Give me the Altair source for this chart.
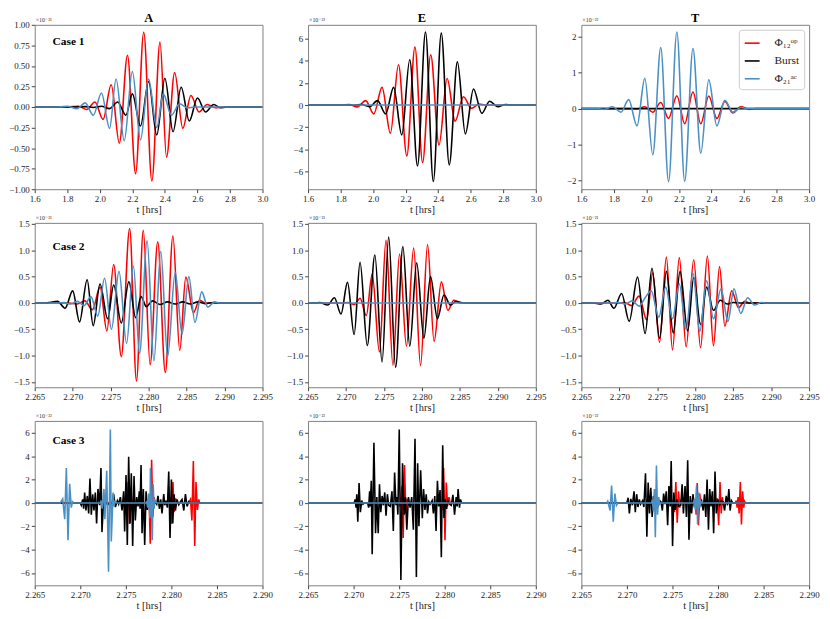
import altair as alt
import pandas as pd

FONT = "Liberation Serif, DejaVu Serif, serif"
SERIES = ["Φ₁₂ᵒᵖ", "Burst", "Φ₂₁ᵃᶜ"]
COLORS = ["#ff0000", "#000000", "#4a90c4"]

# ---------------- tick values ----------------
X1_TICKS = [1.6, 1.8, 2.0, 2.2, 2.4, 2.6, 2.8, 3.0]
X2_TICKS = [2.265, 2.270, 2.275, 2.280, 2.285, 2.290, 2.295]
X3_TICKS = [2.265, 2.270, 2.275, 2.280, 2.285, 2.290]
YA1_TICKS = [-1.0, -0.75, -0.5, -0.25, 0.0, 0.25, 0.5, 0.75, 1.0]
YE1_TICKS = [-6, -4, -2, 0, 2, 4, 6]
YT1_TICKS = [-2, -1, 0, 1, 2]
Y2_TICKS = [-1.5, -1.0, -0.5, 0.0, 0.5, 1.0, 1.5]
Y3_TICKS = [-6, -4, -2, 0, 2, 4, 6]

# ---------------- Case 1 (t [hrs], value) ----------------
A1_OP = [(1.80, 0), (1.87, 0.01), (1.92, -0.03), (1.97, 0.06), (2.02, -0.15), (2.07, 0.27), (2.12, -0.44),
         (2.17, 0.63), (2.22, -0.81), (2.27, 0.91), (2.32, -0.90), (2.37, 0.79), (2.41, -0.61), (2.46, 0.42),
         (2.51, -0.26), (2.56, 0.14), (2.61, -0.06), (2.66, 0.03), (2.71, -0.01), (2.75, 0)]
A1_BU = [(1.85, 0), (1.91, 0.005), (1.96, -0.005), (2.01, 0.01), (2.06, -0.02), (2.11, 0.06), (2.16, -0.10),
         (2.20, 0.16), (2.25, -0.23), (2.30, 0.31), (2.35, -0.34), (2.40, 0.35), (2.45, -0.30), (2.50, 0.24),
         (2.55, -0.17), (2.60, 0.11), (2.65, -0.06), (2.70, 0.03), (2.74, -0.01), (2.78, 0)]
A1_AC = [(1.75, 0), (1.80, 0.01), (1.86, -0.02), (1.91, 0.05), (1.96, -0.10), (2.01, 0.17), (2.06, -0.26),
         (2.10, 0.34), (2.15, -0.41), (2.20, 0.43), (2.25, -0.40), (2.30, 0.34), (2.35, -0.25), (2.39, 0.16),
         (2.44, -0.10), (2.49, 0.04), (2.54, -0.01), (2.58, 0)]

E1_OP = [(1.80, 0), (1.853, 0.05), (1.903, -0.17), (1.954, 0.4), (2.004, -0.8), (2.055, 1.6), (2.106, -2.55),
         (2.156, 3.65), (2.207, -4.6), (2.257, 5.25), (2.304, -5.2), (2.354, 4.55), (2.405, -3.6), (2.455, 2.4),
         (2.504, -1.45), (2.555, 0.75), (2.605, -0.3), (2.652, 0.1), (2.69, 0)]
E1_BU = [(1.84, 0), (1.88, -0.01), (1.928, 0.05), (1.978, -0.15), (2.027, 0.4), (2.077, -0.8), (2.126, 1.6),
         (2.176, -2.7), (2.225, 4.1), (2.273, -5.5), (2.322, 6.6), (2.370, -6.9), (2.419, 6.5), (2.468, -5.4),
         (2.518, 3.9), (2.567, -2.6), (2.617, 1.45), (2.668, -0.75), (2.716, 0.35), (2.767, -0.15),
         (2.815, 0.05), (2.85, 0)]
E1_AC = []

T1_OP = [(1.90, 0), (1.94, -0.01), (1.990, 0.05), (2.039, -0.1), (2.088, 0.17), (2.136, -0.27), (2.187, 0.36),
         (2.235, -0.42), (2.286, 0.46), (2.334, -0.42), (2.383, 0.35), (2.433, -0.27), (2.482, 0.2),
         (2.531, -0.12), (2.581, 0.06), (2.632, -0.02), (2.67, 0)]
T1_BU = []
T1_AC = [(1.70, 0), (1.742, -0.02), (1.792, 0.05), (1.843, -0.1), (1.891, 0.25), (1.942, -0.48), (1.990, 0.84),
         (2.039, -1.28), (2.088, 1.7), (2.136, -2.03), (2.187, 2.13), (2.235, -2.02), (2.286, 1.67),
         (2.334, -1.24), (2.383, 0.8), (2.433, -0.48), (2.482, 0.23), (2.531, -0.1), (2.581, 0.03), (2.62, 0)]

# ---------------- Case 2 ----------------
A2_OP = [(2.2695, 0), (2.2706, -0.02), (2.2716, 0.04), (2.2726, -0.13), (2.2736, 0.3), (2.2745, -0.53),
         (2.2754, 0.73), (2.2764, -1.02), (2.2775, 1.41), (2.2784, -1.48), (2.2793, 1.38), (2.2802, -1.17),
         (2.2812, 1.16), (2.2822, -1.32), (2.2832, 1.27), (2.2841, -0.9), (2.2849, 0.49), (2.2859, -0.18),
         (2.2867, 0.05), (2.2875, 0)]
A2_BU = [(2.2665, 0), (2.2670, 0.01), (2.2680, 0.03), (2.2690, -0.1), (2.2700, 0.23), (2.2709, -0.36),
         (2.2719, 0.44), (2.2727, -0.43), (2.2736, 0.36), (2.2746, -0.3), (2.2754, 0.34), (2.2764, -0.38),
         (2.2774, 0.4), (2.2783, -0.28), (2.2790, 0.12), (2.2797, -0.07), (2.2805, 0.04), (2.2815, -0.03),
         (2.2825, 0.02), (2.2835, -0.02), (2.2845, 0.02), (2.2855, -0.02), (2.2865, 0.02), (2.2875, -0.015),
         (2.2885, 0.01), (2.2892, 0)]
A2_AC = [(2.2680, 0), (2.2688, 0.01), (2.2697, -0.02), (2.2706, 0.03), (2.2715, -0.05), (2.2724, 0.12),
         (2.2733, -0.25), (2.2742, 0.47), (2.2751, -0.5), (2.2761, 0.6), (2.2771, -0.77), (2.2780, 0.7),
         (2.2788, -0.96), (2.2798, 1.18), (2.2807, -1.1), (2.2816, 0.98), (2.2825, -1.02), (2.2835, 0.58),
         (2.2844, -0.59), (2.2853, 0.5), (2.2861, -0.37), (2.2870, 0.21), (2.2878, -0.08), (2.2887, 0.02),
         (2.2893, 0)]

E2_OP = [(2.2695, 0), (2.2702, 0.01), (2.2711, -0.03), (2.27185, 0.09), (2.27267, -0.24), (2.27345, 0.55),
         (2.2744, -0.93), (2.27527, 1.19), (2.27618, -1.18), (2.27705, 0.93), (2.27796, -0.82), (2.27891, 1.04),
         (2.27982, -1.19), (2.28074, 1.11), (2.2816, -0.73), (2.28256, 0.4), (2.28342, -0.14), (2.2842, 0.05),
         (2.2850, 0)]
E2_BU = [(2.2660, 0), (2.26652, 0.01), (2.2676, -0.04), (2.26847, 0.1), (2.26934, -0.21), (2.2702, 0.39),
         (2.27107, -0.6), (2.27185, 0.77), (2.2728, -0.81), (2.2738, 0.91), (2.27475, -1.12), (2.27562, 1.25),
         (2.27653, -1.22), (2.27749, 1.07), (2.2784, -0.82), (2.27931, 0.76), (2.28026, -0.67), (2.28113, 0.5),
         (2.28204, -0.3), (2.2829, 0.15), (2.28377, -0.04), (2.2845, 0.03), (2.2855, 0)]
E2_AC = []

T2_OP = [(2.2700, 0), (2.2707, 0.01), (2.2716, -0.05), (2.2726, 0.13), (2.2736, -0.32), (2.2744, 0.57),
         (2.2753, -0.75), (2.2762, 0.87), (2.2770, -0.89), (2.2779, 0.86), (2.2788, -0.83), (2.2798, 0.82),
         (2.2807, -0.85), (2.2816, 0.89), (2.2824, -0.81), (2.2832, 0.69), (2.2839, -0.44), (2.2848, 0.23),
         (2.2857, -0.09), (2.2865, 0.03), (2.2872, 0)]
T2_BU = [(2.2665, 0), (2.2676, -0.02), (2.2685, 0.05), (2.2693, -0.1), (2.2703, 0.18), (2.2713, -0.35),
         (2.2724, 0.49), (2.2734, -0.58), (2.2743, 0.66), (2.2753, -0.67), (2.2762, 0.6), (2.2771, -0.57),
         (2.2780, 0.6), (2.2790, -0.53), (2.2798, 0.48), (2.2807, -0.41), (2.2815, 0.3), (2.2824, -0.14),
         (2.2833, 0.05), (2.2842, -0.02), (2.2850, 0.01), (2.2860, 0)]
T2_AC = [(2.2690, 0), (2.2699, 0.01), (2.2708, -0.02), (2.2717, 0.04), (2.2726, -0.06), (2.2734, 0.1),
         (2.2742, 0.23), (2.2752, -0.27), (2.2761, 0.3), (2.2770, -0.3), (2.2779, 0.36), (2.2788, -0.5),
         (2.2797, 0.57), (2.2806, -0.54), (2.2815, 0.42), (2.2824, -0.3), (2.2834, 0.27), (2.2843, -0.35),
         (2.2851, 0.27), (2.2860, -0.2), (2.2869, 0.1), (2.2878, -0.04), (2.2887, 0.01), (2.2893, 0)]

# ---------------- Case 3 ----------------
A3_OP = [(2.2749, 0), (2.2750, 0.3), (2.2751, -0.6), (2.27525, 1.8), (2.2754, -1.8), (2.27555, 1.1),
         (2.2757, -0.6), (2.2758, 0.2), (2.2759, 0),
         (2.2774, 0), (2.27755, 0.4), (2.27768, -3.5), (2.27783, 3.7), (2.27796, -1.2), (2.2781, 0.5), (2.2782, 0),
         (2.2797, 0), (2.27985, 0.5), (2.27999, -1.8), (2.28017, 1.8), (2.2803, -0.8), (2.28045, 0.4), (2.2806, 0),
         (2.2819, 0), (2.2821, 0.3), (2.28225, -1.5), (2.28241, 3.6), (2.28256, -3.7), (2.2827, 1.8),
         (2.28285, -0.6), (2.2830, 0.3), (2.2831, 0)]
A3_BU = [(2.27000, 0), (2.27011, -0.2), (2.27026, 0.3), (2.27037, -0.5), (2.27048, 0.9), (2.27062, -0.65),
         (2.27077, 0.6), (2.27092, -0.9), (2.27106, 2.1), (2.27121, -1.0), (2.27136, 0.75), (2.2715, -0.65),
         (2.27165, 0.9), (2.27179, -1.75), (2.27194, 1.2), (2.27212, -0.2), (2.27227, 3.0), (2.27238, -2.5),
         (2.27256, 0.3), (2.27275, -0.2), (2.27293, 0.1), (2.27311, -0.1), (2.2733, 0.1), (2.27348, -0.1),
         (2.27366, 0.75), (2.27385, -0.35), (2.27407, 0.2), (2.27421, -0.1), (2.2744, 0.5), (2.27458, -0.65),
         (2.27476, 1.0), (2.27487, -2.45), (2.27502, 2.4), (2.27516, -3.6), (2.27531, 3.95), (2.27546, -1.75),
         (2.2756, 2.55), (2.27575, -3.7), (2.2759, 2.3), (2.27604, -1.5), (2.27619, 0.5), (2.27634, -0.3),
         (2.27648, 1.0), (2.27656, -0.5), (2.27667, 3.25), (2.27678, -2.6), (2.27692, 1.2), (2.27707, -3.6),
         (2.27722, 1.0), (2.27736, -0.6), (2.27751, 0.3), (2.27769, -0.2), (2.27788, 0.1), (2.27806, -0.1),
         (2.27824, 0.1), (2.27839, -0.1), (2.27853, 0.6), (2.27868, -0.5), (2.27883, 0.3), (2.27897, -0.9),
         (2.27916, 0.75), (2.27927, -0.2), (2.27941, 0.2), (2.27956, -0.4), (2.27971, 2.7), (2.27985, -3.0),
         (2.28000, 2.0), (2.28015, -1.75), (2.28029, 0.75), (2.28044, -0.65), (2.28062, 0.3), (2.28081, -0.15),
         (2.28099, 0.1), (2.28117, 0.3), (2.28136, -0.65), (2.28154, 0.75), (2.28172, -0.3), (2.2819, 0.1),
         (2.28201, 0)]
A3_AC = [(2.2678, 0), (2.26807, 0.35), (2.26829, -1.4), (2.26847, 3.0), (2.26865, -3.2), (2.26883, 1.65),
         (2.26901, -0.4), (2.26915, 0.1), (2.2693, 0),
         (2.2722, 0), (2.2723, 0.2), (2.2724, -0.5), (2.2726, 1.2), (2.2727, -1.4), (2.2729, 2.75),
         (2.2731, -5.9), (2.2733, 6.3), (2.2734, -3.3), (2.2736, 0.9), (2.2737, -0.3), (2.2738, 0.1), (2.2740, 0),
         (2.2772, 0), (2.2773, 0.1), (2.2774, -0.4), (2.2775, 0.8), (2.27765, -1.3), (2.2777, 3.0),
         (2.2779, -3.2), (2.2780, 1.6), (2.2781, -0.5), (2.2782, 0.2), (2.2784, 0)]

E3_OP = [(2.27498, 0), (2.27512, -0.3), (2.2753, 1.45), (2.27544, -3.0), (2.27559, 3.25), (2.27573, -0.9),
         (2.27587, 0.35), (2.27602, 0),
         (2.2796, 0), (2.27974, -0.6), (2.27988, 3.0), (2.28003, -3.2), (2.28017, 1.75), (2.28032, -0.25),
         (2.28046, 0.5), (2.28061, 0)]
E3_BU = [(2.27006, 0), (2.27017, 0.3), (2.27027, -0.4), (2.27035, 0.75), (2.27046, -1.6), (2.2706, 1.7),
         (2.27074, -0.8), (2.27089, 0.2), (2.27103, -0.1), (2.27118, 0),
         (2.27154, 0), (2.27165, -0.4), (2.27176, 1.0), (2.27183, -0.3), (2.27194, 1.9), (2.27204, -4.4),
         (2.27223, 5.15), (2.27241, -2.6), (2.27255, 0.5), (2.2727, -2.6), (2.27284, 1.6), (2.27298, -0.8),
         (2.27313, 0.6), (2.27327, -0.2), (2.27342, 0.9), (2.27356, -1.1), (2.27371, 0.75), (2.27385, -0.2),
         (2.27403, -0.3), (2.27421, 1.0), (2.27436, -2.4), (2.2745, 2.6), (2.27465, -0.2), (2.27475, 0.5),
         (2.27486, -1.0), (2.27501, 6.3), (2.27519, -6.6), (2.27537, 3.4), (2.27555, -1.0), (2.27569, 0.5),
         (2.27584, -2.3), (2.27602, 0.5), (2.2762, -0.4), (2.27638, 0.5), (2.27656, -2.3), (2.27674, 5.5),
         (2.27689, -6.35), (2.27703, 3.4), (2.27717, -2.0), (2.27736, 2.8), (2.27754, -1.3), (2.27768, 1.2),
         (2.27783, -0.6), (2.27797, 0.75), (2.27811, -0.9), (2.27826, 0.1), (2.2784, -0.1), (2.27862, 0.2),
         (2.27876, -0.9), (2.27891, 0.6), (2.27905, -2.4), (2.2792, 1.9), (2.27934, -0.3), (2.27949, 1.1),
         (2.27963, -4.65), (2.27978, 4.95), (2.27992, -1.3), (2.28007, 0.3), (2.28021, -0.5), (2.28035, 0.2),
         (2.28054, -0.1), (2.28072, -0.2), (2.2809, 0.7), (2.28108, -1.0), (2.28126, 0.5), (2.28137, -0.3),
         (2.28147, 1.2), (2.28162, -0.4), (2.28173, 0.3), (2.28187, 0)]
E3_AC = []

T3_OP = [(2.2750, 0), (2.2751, 0.3), (2.27522, -0.8), (2.27537, 1.8), (2.27552, -1.7), (2.27567, 1.0),
         (2.2758, -0.4), (2.2759, 0.15), (2.2760, 0),
         (2.2774, 0), (2.2775, 0.3), (2.2776, -1.0), (2.27772, 1.7), (2.27785, -1.9), (2.2780, 0.8),
         (2.2781, -0.3), (2.2782, 0),
         (2.2798, 0), (2.27992, 0.4), (2.28007, -1.9), (2.28022, 1.8), (2.28035, -0.9), (2.28048, 0.5),
         (2.2806, -0.2), (2.2807, 0),
         (2.2819, 0), (2.2820, 0.2), (2.2821, -0.4), (2.2822, 0.5), (2.28232, -0.9), (2.28245, 1.8),
         (2.28257, -1.85), (2.2827, 1.0), (2.28283, -0.4), (2.2829, 0.15), (2.2830, 0)]
T3_BU = [(2.26999, 0), (2.27013, 0.45), (2.27027, -0.9), (2.27042, 0.35), (2.2706, -0.2), (2.27078, 1.0),
         (2.27092, -0.8), (2.27107, 0.75), (2.27121, -0.35), (2.27136, 0.3), (2.2715, -0.1), (2.27172, 0.2),
         (2.27186, -0.35), (2.27204, 2.55), (2.27219, -2.9), (2.27233, 1.75), (2.27248, -0.9), (2.27262, 1.3),
         (2.27277, -1.2), (2.27291, 0.6), (2.27306, -0.2), (2.27324, 0.2), (2.27342, -0.2), (2.2736, 0.2),
         (2.27374, 0.1), (2.27389, -0.65), (2.27403, 0.8), (2.27418, -0.1), (2.27432, 1.0), (2.27447, -1.9),
         (2.27461, 1.45), (2.27475, -0.3), (2.27486, 3.6), (2.27501, -3.7), (2.27515, 0.9), (2.2753, -0.6),
         (2.27548, 0.3), (2.27566, -0.3), (2.27591, -0.2), (2.27606, 1.6), (2.2762, -0.9), (2.27638, 1.45),
         (2.27653, -1.2), (2.27667, 3.65), (2.27681, -3.15), (2.27696, 0.6), (2.2771, -0.9), (2.27725, 0.75),
         (2.27739, -0.2), (2.27764, 0.2), (2.2779, -0.2), (2.27819, 0.2), (2.27837, -0.65), (2.27851, 0.75),
         (2.27866, -1.2), (2.2788, 2.0), (2.27895, -2.3), (2.27909, 1.2), (2.27923, -0.3), (2.27938, 1.0),
         (2.27952, -2.6), (2.27967, 2.7), (2.27981, -0.9), (2.27999, 0.3), (2.28017, -0.2), (2.28035, 0.2),
         (2.28054, 0.1), (2.28072, -0.65), (2.2809, 0.6), (2.28104, -0.2), (2.28119, 1.2), (2.28133, -0.65),
         (2.28147, 0.2), (2.28162, 0)]
T3_AC = [(2.2678, 0), (2.2679, 0.15), (2.26815, -0.65), (2.26832, 1.5), (2.2685, -1.6), (2.26868, 0.8),
         (2.26885, -0.2), (2.2690, 0),
         (2.2727, 0), (2.2728, 0.3), (2.2729, -0.7), (2.27302, 1.2), (2.27312, -2.95), (2.27324, 3.2),
         (2.27336, -1.0), (2.27348, 0.5), (2.2736, -0.1), (2.2737, 0),
         (2.2773, 0), (2.2774, 0.3), (2.2775, -0.6), (2.27764, 1.45), (2.27776, -1.8), (2.27788, 0.9),
         (2.2780, -0.4), (2.2781, 0.15), (2.2782, 0)]

W, H = 230, 166

LEGEND = alt.Legend(orient="top-right", title=None, fillColor="white", strokeColor="#cccccc",
                    cornerRadius=3, padding=5, offset=5, symbolType="stroke", symbolStrokeWidth=1.6,
                    symbolSize=225, labelFont=FONT, labelFontSize=11.5, labelColor="#222222",
                    labelOffset=14, rowPadding=4)


def text_layer(txt, x, y, align, size, weight="normal", color="#000000", baseline="alphabetic"):
    return alt.Chart(pd.DataFrame({"txt": [txt]})).mark_text(
        align=align, baseline=baseline, fontSize=size, font=FONT, fontWeight=weight, color=color
    ).encode(x=alt.value(x), y=alt.value(y), text="txt:N")


def panel(series, xdom, xticks, xfmt, ydom, yticks, yfmt, exp, interp,
          title=None, case=None, case_y=20, legend=False):
    layers = []
    for pts, name in zip(series, SERIES):
        rows = [(xdom[0], 0.0)] + list(pts) + [(xdom[1], 0.0)]
        df = pd.DataFrame(rows, columns=["t", "v"])
        df["s"] = name
        layers.append(
            alt.Chart(df).mark_line(strokeWidth=1.6, interpolate=interp, clip=True).encode(
                x=alt.X("t:Q", scale=alt.Scale(domain=xdom, nice=False, zero=False),
                        axis=alt.Axis(values=xticks, format=xfmt, title="t [hrs]")),
                y=alt.Y("v:Q", scale=alt.Scale(domain=ydom, nice=False, zero=False),
                        axis=alt.Axis(values=yticks, format=yfmt, title=None)),
                color=alt.Color("s:N", scale=alt.Scale(domain=SERIES, range=COLORS),
                                legend=LEGEND if legend else None),
            )
        )
    layers.append(text_layer(exp, 1, -3, "left", 6, color="#333333"))
    if title:
        layers.append(text_layer(title, W / 2, -3, "center", 12.5, weight="bold"))
    if case:
        layers.append(text_layer(case, 18, case_y, "left", 11.5, weight="bold", baseline="middle"))
    return alt.layer(*layers).properties(width=W, height=H)


X1 = [1.6, 3.0]
X2 = [2.265, 2.295]
X3 = [2.265, 2.290]
Y2 = [-1.6, 1.52]
Y3 = [-7.06, 7.03]

panels = [
    panel([A1_OP, A1_BU, A1_AC], X1, X1_TICKS, ".1f", [-1.0, 1.0], YA1_TICKS, ".2f", "×10⁻²¹", "monotone",
          title="A", case="Case 1", case_y=17),
    panel([E1_OP, E1_BU, E1_AC], X1, X1_TICKS, ".1f", [-7.6, 7.25], YE1_TICKS, "d", "×10⁻²²", "monotone",
          title="E"),
    panel([T1_OP, T1_BU, T1_AC], X1, X1_TICKS, ".1f", [-2.24, 2.33], YT1_TICKS, "d", "×10⁻²²", "monotone",
          title="T", legend=True),
    panel([A2_OP, A2_BU, A2_AC], X2, X2_TICKS, ".3f", Y2, Y2_TICKS, ".1f", "×10⁻²¹", "monotone",
          case="Case 2", case_y=24),
    panel([E2_OP, E2_BU, E2_AC], X2, X2_TICKS, ".3f", Y2, Y2_TICKS, ".1f", "×10⁻²¹", "monotone"),
    panel([T2_OP, T2_BU, T2_AC], X2, X2_TICKS, ".3f", Y2, Y2_TICKS, ".1f", "×10⁻²¹", "monotone"),
    panel([A3_OP, A3_BU, A3_AC], X3, X3_TICKS, ".3f", Y3, Y3_TICKS, "d", "×10⁻²²", "linear",
          case="Case 3", case_y=20),
    panel([E3_OP, E3_BU, E3_AC], X3, X3_TICKS, ".3f", Y3, Y3_TICKS, "d", "×10⁻²²", "linear"),
    panel([T3_OP, T3_BU, T3_AC], X3, X3_TICKS, ".3f", Y3, Y3_TICKS, "d", "×10⁻²²", "linear"),
]

chart = alt.concat(
    *panels, columns=3, spacing={"row": 34, "column": 46}, bounds="flush"
).resolve_scale(
    color="independent"
).configure_view(
    stroke="#808080", strokeWidth=1
).configure_axis(
    labelFont=FONT, labelFontSize=9, labelColor="#222222", titleFont=FONT, titleFontSize=10.5,
    titleFontWeight="normal", titleColor="#222222", tickColor="#444444", tickSize=3.5,
    domain=False, grid=False, labelOverlap=False, labelFlush=False, labelPadding=2, titlePadding=1
).properties(
    padding={"left": 0, "top": 0, "right": 2, "bottom": 0}
)

chart.save("out.html", embed_options={"renderer": "svg", "actions": False})
